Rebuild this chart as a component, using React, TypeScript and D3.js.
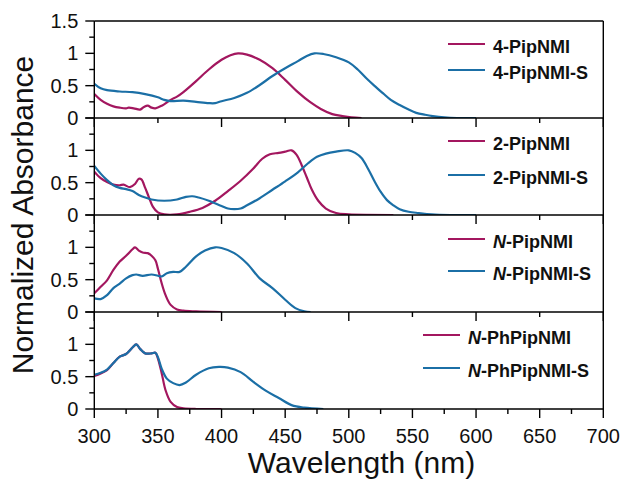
import React from "react";
import * as d3 from "d3";

type Pt = [number, number];

// ---- data (wavelength nm, normalized absorbance) ----
const pip4: Pt[] = [[300,0.37],[305,0.28],[310,0.22],[315,0.18],[320,0.16],[325,0.15],[327,0.16],[331,0.15],[336,0.13],[339,0.17],[342,0.19],[345,0.16],[348,0.15],[353,0.19],[360,0.28],[365,0.33],[370,0.40],[380,0.57],[390,0.75],[400,0.9],[407,0.97],[413,1.0],[420,0.98],[430,0.9],[440,0.77],[450,0.59],[460,0.4],[470,0.24],[478,0.14],[487,0.06],[495,0.03],[502,0.01],[510,0.0]];
const pip4S: Pt[] = [[300,0.53],[305,0.46],[310,0.43],[320,0.41],[330,0.40],[340,0.37],[350,0.32],[355,0.28],[360,0.26],[370,0.27],[380,0.25],[390,0.23],[395,0.23],[400,0.26],[410,0.31],[420,0.39],[430,0.51],[440,0.65],[450,0.77],[460,0.88],[467,0.96],[473,1.0],[480,0.99],[490,0.94],[500,0.86],[507,0.75],[514,0.61],[520,0.5],[527,0.38],[533,0.28],[540,0.2],[547,0.13],[553,0.08],[560,0.05],[566,0.03],[575,0.01],[585,0.0],[600,0.0]];
const pip2: Pt[] = [[300,0.67],[305,0.57],[310,0.51],[315,0.47],[320,0.46],[323,0.47],[328,0.43],[332,0.48],[335,0.56],[337,0.55],[340,0.42],[343,0.27],[346,0.13],[350,0.04],[355,0.01],[365,0.01],[375,0.05],[385,0.11],[395,0.22],[405,0.37],[415,0.53],[425,0.72],[432,0.87],[438,0.94],[445,0.96],[450,0.98],[455,1.0],[459,0.93],[463,0.77],[467,0.58],[471,0.39],[476,0.22],[482,0.1],[490,0.03],[500,0.01],[535,0.0]];
const pip2S: Pt[] = [[300,0.76],[305,0.64],[310,0.54],[315,0.46],[320,0.42],[325,0.4],[330,0.37],[335,0.31],[340,0.27],[345,0.24],[355,0.22],[365,0.24],[372,0.28],[377,0.29],[382,0.27],[390,0.22],[400,0.14],[405,0.1],[410,0.09],[415,0.1],[420,0.15],[430,0.26],[440,0.39],[450,0.52],[460,0.66],[468,0.8],[475,0.9],[482,0.95],[490,0.98],[500,1.0],[505,0.96],[510,0.88],[515,0.72],[520,0.53],[525,0.36],[530,0.23],[535,0.15],[540,0.09],[547,0.05],[555,0.03],[565,0.01],[580,0.0],[600,0.0]];
const pipN: Pt[] = [[300,0.29],[305,0.39],[310,0.49],[315,0.65],[320,0.78],[325,0.87],[330,0.97],[332,1.0],[335,0.95],[338,0.92],[342,0.91],[345,0.87],[348,0.8],[350,0.67],[353,0.44],[356,0.26],[360,0.11],[365,0.04],[370,0.02],[380,0.01],[400,0.0]];
const pipNS: Pt[] = [[300,0.21],[305,0.2],[310,0.26],[315,0.37],[320,0.44],[325,0.52],[330,0.57],[333,0.58],[338,0.56],[345,0.58],[350,0.56],[353,0.55],[357,0.6],[362,0.62],[367,0.62],[372,0.7],[380,0.86],[387,0.95],[395,1.0],[400,0.99],[410,0.91],[420,0.75],[430,0.52],[440,0.37],[450,0.19],[458,0.06],[465,0.01],[470,0.0]];
const phPip: Pt[] = [[300,0.51],[305,0.55],[310,0.6],[315,0.71],[320,0.81],[325,0.85],[330,0.95],[333,1.0],[336,0.93],[340,0.86],[345,0.86],[348,0.87],[350,0.78],[353,0.55],[356,0.29],[360,0.11],[365,0.03],[370,0.01],[380,0.0],[400,0.0]];
const phPipS: Pt[] = [[300,0.53],[305,0.56],[310,0.61],[315,0.71],[320,0.81],[325,0.85],[330,0.95],[333,1.0],[336,0.93],[340,0.86],[345,0.86],[348,0.87],[350,0.8],[353,0.62],[357,0.47],[362,0.4],[367,0.37],[372,0.41],[380,0.53],[390,0.63],[398,0.65],[405,0.64],[415,0.57],[425,0.42],[435,0.28],[445,0.17],[455,0.06],[465,0.02],[480,0.0]];

const names1 = ["4-PipNMI", "4-PipNMI-S"];
const names2 = ["2-PipNMI", "2-PipNMI-S"];
const names3 = ["N-PipNMI", "N-PipNMI-S"];
const names4 = ["N-PhPipNMI", "N-PhPipNMI-S"];

const xTicksMajorTop = [300, 400, 500, 600, 700];
const xTicksMinorTop = [350, 450, 550, 650];
const xTicksMajorBottom = [300, 350, 400, 450, 500, 550, 600, 650, 700];
const xTicksMinorBottom = [325, 375, 425, 475, 525, 575, 625, 675];
const yTicksMajor = [0, 0.5, 1, 1.5];
const yTicksMinor = [0.25, 0.75, 1.25];

const MAGENTA = "#a3175f";
const BLUE = "#1b6fa6";
const FONT = "'Liberation Sans', Arial, Helvetica, sans-serif";

const panels = [
  { a: pip4, b: pip4S, names: names1, legendX: 448, rows: [53, 79], labelTop: true },
  { a: pip2, b: pip2S, names: names2, legendX: 448, rows: [150, 184], labelTop: false },
  { a: pipN, b: pipNS, names: names3, legendX: 448, rows: [248, 280], labelTop: false },
  { a: phPip, b: phPipS, names: names4, legendX: 423, rows: [344, 377], labelTop: false },
];

const X0 = 94.3, X1 = 603.3;
const TOP = 21, PH = 97;

function Label({ text, x, y }: { text: string; x: number; y: number }) {
  if (text.startsWith("N-")) {
    return (
      <text x={x} y={y} fontFamily={FONT} fontWeight="bold" fontSize={18} fill="#111">
        <tspan fontStyle="italic">N</tspan>
        {text.slice(1)}
      </text>
    );
  }
  return (
    <text x={x} y={y} fontFamily={FONT} fontWeight="bold" fontSize={18} fill="#111">
      {text}
    </text>
  );
}

export default function App() {
  const x = d3.scaleLinear().domain([300, 700]).range([X0, X1]);
  const n = panels.length;
  const bottomAll = TOP + PH * n;
  return (
    <svg width={622} height={479} style={{ position: "absolute", left: 0, top: 0, background: "#fff" }}>
      <rect x={0} y={0} width={622} height={479} fill="#fff" />
      <defs>
        {panels.map((_, i) => (
          <clipPath id={"clip" + i} key={i}>
            <rect x={X0} y={TOP + PH * i - 2} width={X1 - X0} height={PH + 2} />
          </clipPath>
        ))}
      </defs>
      {panels.map((p, i) => {
        const top = TOP + PH * i;
        const bottom = top + PH;
        const y = d3.scaleLinear().domain([0, 1.5]).range([bottom, top]);
        const line = d3
          .line<Pt>()
          .x((d) => x(d[0]))
          .y((d) => y(d[1]))
          .curve(d3.curveCatmullRom.alpha(0.5));
        const isLast = i === n - 1;
        const maj = isLast ? xTicksMajorBottom : xTicksMajorTop;
        const min = isLast ? xTicksMinorBottom : xTicksMinorTop;
        const labels = p.labelTop ? yTicksMajor : yTicksMajor.filter((v) => v < 1.5);
        return (
          <g key={i}>
            <g clipPath={`url(#clip${i})`}>
              <path d={line(p.a) || ""} fill="none" stroke={MAGENTA} strokeWidth={2.2} />
              <path d={line(p.b) || ""} fill="none" stroke={BLUE} strokeWidth={2.2} />
            </g>
            {/* legend */}
            {p.names.map((nm, j) => (
              <g key={nm}>
                <line
                  x1={p.legendX}
                  x2={p.legendX + 37}
                  y1={p.rows[j] - 9}
                  y2={p.rows[j] - 9}
                  stroke={j === 0 ? MAGENTA : BLUE}
                  strokeWidth={2.2}
                />
                <Label text={nm} x={p.legendX + 45} y={p.rows[j]} />
              </g>
            ))}
            {/* bottom axis line */}
            <line x1={X0} x2={X1} y1={bottom} y2={bottom} stroke="#000" strokeWidth={1.4} />
            {maj.map((t) => (
              <line key={"M" + t} x1={x(t)} x2={x(t)} y1={bottom} y2={bottom + 9} stroke="#000" strokeWidth={1.4} />
            ))}
            {min.map((t) => (
              <line key={"m" + t} x1={x(t)} x2={x(t)} y1={bottom} y2={bottom + 5} stroke="#000" strokeWidth={1.4} />
            ))}
            {/* y ticks */}
            {yTicksMajor.map((t) => (
              <line key={"yM" + t} x1={X0 - 9} x2={X0} y1={y(t)} y2={y(t)} stroke="#000" strokeWidth={1.4} />
            ))}
            {yTicksMinor.map((t) => (
              <line key={"ym" + t} x1={X0 - 5} x2={X0} y1={y(t)} y2={y(t)} stroke="#000" strokeWidth={1.4} />
            ))}
            {labels.map((t) => (
              <text
                key={"yl" + t}
                x={X0 - 16}
                y={y(t) + 7}
                textAnchor="end"
                fontFamily={FONT}
                fontSize={20}
                fill="#111"
              >
                {d3.format("~g")(t)}
              </text>
            ))}
          </g>
        );
      })}
      {/* frame */}
      <line x1={X0} x2={X1} y1={TOP} y2={TOP} stroke="#000" strokeWidth={1.4} />
      <line x1={X0} x2={X0} y1={TOP} y2={bottomAll} stroke="#000" strokeWidth={1.4} />
      <line x1={X1} x2={X1} y1={TOP} y2={bottomAll} stroke="#000" strokeWidth={1.4} />
      {/* x tick labels */}
      {xTicksMajorBottom.map((t) => (
        <text key={"xl" + t} x={x(t)} y={443} textAnchor="middle" fontFamily={FONT} fontSize={20} fill="#111">
          {t}
        </text>
      ))}
      <text x={361.5} y={473} textAnchor="middle" fontFamily={FONT} fontSize={30} fill="#111">
        Wavelength (nm)
      </text>
      <text
        transform={`translate(33,${(TOP + bottomAll) / 2}) rotate(-90)`}
        textAnchor="middle"
        fontFamily={FONT}
        fontSize={30}
        fill="#111"
      >
        Normalized Absorbance
      </text>
    </svg>
  );
}
